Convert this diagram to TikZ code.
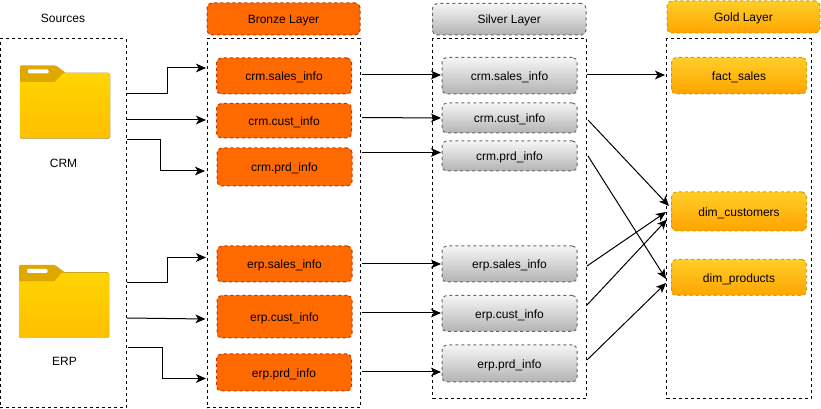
\documentclass[tikz,border=0pt]{standalone}
\usepackage{fontspec}
\setmainfont{Liberation Sans}
\usetikzlibrary{arrows.meta,positioning}
\definecolor{bronzefill}{HTML}{FF6A00}
\definecolor{bronzeline}{HTML}{C73500}
\definecolor{silvertop}{HTML}{F5F5F5}
\definecolor{silverbot}{HTML}{B3B3B3}
\definecolor{silverline}{HTML}{666666}
\definecolor{goldtop}{HTML}{FFCD28}
\definecolor{goldbot}{HTML}{FFA500}
\definecolor{goldline}{HTML}{D79B00}
\definecolor{foldertop}{HTML}{FFD500}
\definecolor{folderbot}{HTML}{FFBF00}
\definecolor{foldertab}{HTML}{DFA800}
\tikzset{
	box/.style 2 args={minimum width=#1*0.75pt,minimum height=#2*0.75pt,inner sep=0pt,text height=7.6pt,text depth=0.8pt},
	pane/.style={draw,dashed,dash pattern=on 2.25pt off 2.25pt,line width=0.75pt},
	tile/.style={rounded corners=3.5pt,dash pattern=on 2.25pt off 2.25pt,line width=0.75pt,draw},
	bronze/.style={tile,draw=bronzeline,fill=bronzefill},
	silver/.style={tile,draw=silverline,top color=silvertop,bottom color=silverbot},
	gold/.style={tile,draw=goldline,top color=goldtop,bottom color=goldbot},
	flow/.style={-{Stealth[length=7.5pt,width=6.5pt,inset=2pt]},line width=0.75pt},
	pics/folder/.style={code={
		\fill[rounded corners=1pt,top color=foldertop,bottom color=folderbot] (0,8) rectangle (90,73.5);
		\fill[foldertab,rounded corners=0.8pt] (0,17) -- (0,0.5) -- (36,0.5) -- (46,8) -- (43,8) -- (35,17) -- cycle;
		\fill[white,rounded corners=0.8pt] (8,4.5) rectangle (28.5,8.5);
	}}
}
\begin{document}
\begin{tikzpicture}[x=0.75pt,y=-0.75pt,font=\fontsize{9}{11}\selectfont]
	\useasboundingbox (0,0) rectangle (821,409);
	% frames
	\node[pane,box={126}{369}] (src_frame) at (63,223.5) {};
	\node[pane,box={153}{369}] (bronze_frame) at (283.5,223.5) {};
	\node[pane,box={153.5}{360}] (silver_frame) at (509.25,219) {};
	\node[pane,box={144.5}{360}] (gold_frame) at (738.75,219) {};
	% headers
	\node (src_title) at (63,18) {Sources};
	\node[bronze,box={153}{32}] (bronze_title) at (283.5,19) {Bronze Layer};
	\node[silver,box={153.5}{31.5}] (silver_title) at (509.25,19.25) {Silver Layer};
	\node[gold,box={153}{32}] (gold_title) at (743.5,17) {Gold Layer};
	% folders
	\pic at (20,65) {folder};
	\pic at (19,264.5) {folder};
	\node (crm) at (63.5,163.5) {CRM};
	\node (erp) at (64.5,361) {ERP};
	% bronze
	\node[bronze,box={135}{36}] (crm_sales_b) at (284,76) {crm.sales\_info};
	\node[bronze,box={135}{34.5}] (crm_cust_b) at (284,120.75) {crm.cust\_info};
	\node[bronze,box={135}{38}] (crm_prd_b) at (284.5,167) {crm.prd\_info};
	\node[bronze,box={135}{36}] (erp_sales_b) at (284.5,264) {erp.sales\_info};
	\node[bronze,box={135}{42.5}] (erp_cust_b) at (284.5,316.75) {erp.cust\_info};
	\node[bronze,box={135}{37}] (erp_prd_b) at (284,372.5) {erp.prd\_info};
	% silver
	\node[silver,box={135}{36.5}] (crm_sales_s) at (509.5,75.75) {crm.sales\_info};
	\node[silver,box={135}{30}] (crm_cust_s) at (509.5,118) {crm.cust\_info};
	\node[silver,box={135}{30}] (crm_prd_s) at (509.5,156) {crm.prd\_info};
	\node[silver,box={135}{36}] (erp_sales_s) at (509.5,264) {erp.sales\_info};
	\node[silver,box={135}{36}] (erp_cust_s) at (509.5,313.5) {erp.cust\_info};
	\node[silver,box={135}{37}] (erp_prd_s) at (509.5,363.5) {erp.prd\_info};
	% gold
	\node[gold,box={135}{36.5}] (fact_sales) at (739,75.75) {fact\_sales};
	\node[gold,box={135}{39}] (dim_customers) at (739,211.5) {dim\_customers};
	\node[gold,box={135}{36}] (dim_products) at (739,277.5) {dim\_products};
	% ends of the arrows on the frames
	\coordinate (src_0) at (127,93.5);
	\coordinate (src_1) at (127,120);
	\coordinate (src_2) at (127,139.5);
	\coordinate (src_3) at (127,282.5);
	\coordinate (src_4) at (127,318);
	\coordinate (src_5) at (128,347.5);
	\coordinate (bin_0) at (206,68);
	\coordinate (bin_1) at (206,120);
	\coordinate (bin_2) at (205,171);
	\coordinate (bin_3) at (206,257.5);
	\coordinate (bin_4) at (205.5,319);
	\coordinate (bin_5) at (206,378.5);
	\coordinate (bout_0) at (362,75);
	\coordinate (bout_1) at (362,117.5);
	\coordinate (bout_2) at (362,152.5);
	\coordinate (bout_3) at (362,264);
	\coordinate (bout_4) at (362,313);
	\coordinate (bout_5) at (362,372);
	\coordinate (sin_0) at (441,75);
	\coordinate (sin_1) at (441,118);
	\coordinate (sin_2) at (441,152.5);
	\coordinate (sin_3) at (441,264);
	\coordinate (sin_4) at (441,313);
	\coordinate (sin_5) at (441,372);
	\coordinate (sout_0) at (587,75);
	\coordinate (sout_1) at (588,120);
	\coordinate (sout_2) at (588,156);
	\coordinate (sout_3) at (587,266);
	\coordinate (sout_4) at (587,305);
	\coordinate (sout_5) at (587,360);
	\coordinate (gin_0) at (665,75);
	\coordinate (gin_1) at (669,206);
	\coordinate (gin_2) at (666,279);
	\coordinate (gin_3) at (666,212);
	\coordinate (gin_4) at (667,219.5);
	\coordinate (gin_5) at (666,283);
	% arrows
	\draw[flow] (src_0) -- ++(40,0) |- (bin_0);
	\draw[flow] (src_1) -- (bin_1);
	\draw[flow] (src_2) -- ++(33.5,0) |- (bin_2);
	\draw[flow] (src_3) -- ++(40,0) |- (bin_3);
	\draw[flow] (src_4) -- (bin_4);
	\draw[flow] (src_5) -- ++(34.5,0) |- (bin_5);
	\foreach \i in {0,...,5} {
		\draw[flow] (bout_\i) -- (sin_\i);
		\draw[flow] (sout_\i) -- (gin_\i);
	}
\end{tikzpicture}
\end{document}
